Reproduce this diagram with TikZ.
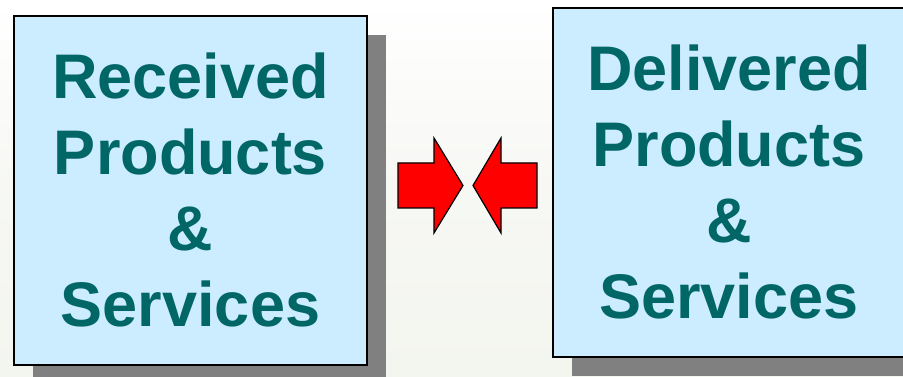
\documentclass[tikz,border=0pt]{standalone}
\usepackage{fontspec}
\setmainfont{Liberation Sans}
\definecolor{txt}{RGB}{0,102,102}
\definecolor{boxfill}{RGB}{204,236,255}
\definecolor{shade}{RGB}{128,128,128}
\definecolor{bgc}{RGB}{243,245,239}
\definecolor{arr}{RGB}{255,0,0}
\tikzset{
  panel/.style={draw=black, line width=1.6pt, fill=boxfill, rectangle, inner sep=0pt},
  panelshadow/.style={fill=shade, draw=none, rectangle, inner sep=0pt},
  lbl/.style={anchor=base, text=txt, font=\fontsize{63}{75}\selectfont\bfseries, inner sep=0pt},
  blockarrow/.style={fill=arr, draw=black, line width=1.2pt, line join=miter}
}
\begin{document}
\begin{tikzpicture}[x=1pt,y=-1pt]
\useasboundingbox (0,0) rectangle (903,377);
\clip (0,0) rectangle (903,377);
\shade[top color=white, bottom color=bgc, middle color=bgc!70!white] (0,0) rectangle (903,377);
% left panel
\node[panelshadow, minimum width=353pt, minimum height=349pt] (Ls) at (209.5,209.5) {};
\node[panel, minimum width=353pt, minimum height=349pt] (L) at (190.5,190.5) {};
\node[lbl] (L1) at (190.5,99) {Received};
\node[lbl] (L2) at (190.5,175) {Products};
\node[lbl] (L3) at (190.5,251) {\&};
\node[lbl] (L4) at (190.5,326) {Services};
% right panel
\node[panelshadow, minimum width=353pt, minimum height=349pt] (Rs) at (748.5,201.5) {};
\node[panel, minimum width=353pt, minimum height=349pt] (R) at (729.5,182.5) {};
\node[lbl] (R1) at (729,91) {Delivered};
\node[lbl] (R2) at (729,167) {Products};
\node[lbl] (R3) at (729,243) {\&};
\node[lbl] (R4) at (729,318) {Services};
% arrows
\draw[blockarrow] (398,163) -- (434,163) -- (434,138) -- (463,185.5) -- (434,233) -- (434,208) -- (398,208) -- cycle;
\draw[blockarrow] (537,163) -- (501,163) -- (501,138) -- (473,185.5) -- (501,233) -- (501,208) -- (537,208) -- cycle;
\end{tikzpicture}
\end{document}
